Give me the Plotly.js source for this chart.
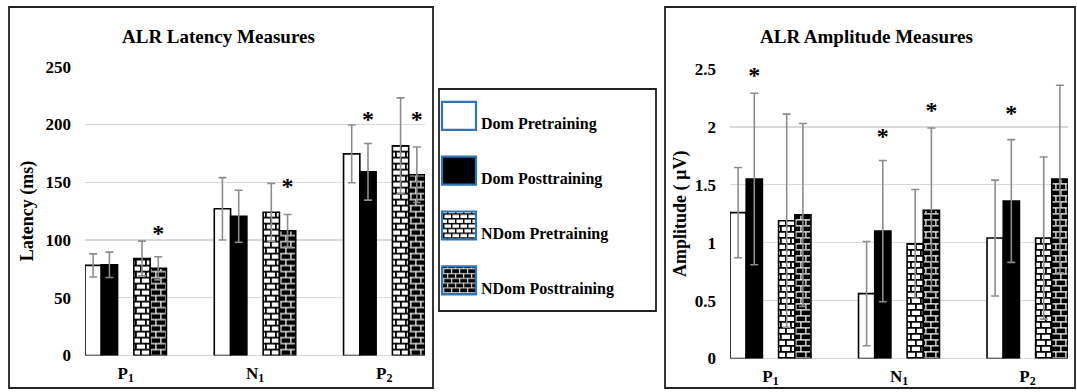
<!DOCTYPE html>
<html><head><meta charset="utf-8">
<script src="https://cdn.plot.ly/plotly-3.0.1.min.js"></script>
<style>html,body{margin:0;padding:0;background:#fff;}#chart{width:1077px;height:392px;}</style>
</head><body><div id="chart"></div>
<script>
// ---------- DATA ----------
const categories = ['P<sub>1</sub>', 'N<sub>1</sub>', 'P<sub>2</sub>'];
const seriesNames = ['Dom Pretraining', 'Dom Posttraining', 'NDom Pretraining', 'NDom Posttraining'];

// Latency (ms)
const latDomPre   = [78, 127, 174.5];
const latDomPost  = [78.5, 120.5, 159];
const latNDomPre  = [84, 124, 181.5];
const latNDomPost = [75.5, 108, 156.5];
const latErrDomPre   = [10, 27, 25];
const latErrDomPost  = [11, 22.5, 24.5];
const latErrNDomPre  = [15, 25, 41.5];
const latErrNDomPost = [10, 14, 24];
const latStarDomPost  = [null, null, 203];
const latStarNDomPost = [104.5, 145, 203];

// Amplitude (µV)
const ampDomPre   = [1.26, 0.56, 1.04];
const ampDomPost  = [1.55, 1.10, 1.36];
const ampNDomPre  = [1.19, 0.99, 1.04];
const ampNDomPost = [1.24, 1.28, 1.55];
const ampErrDomPre   = [0.39, 0.45, 0.50];
const ampErrDomPost  = [0.74, 0.61, 0.53];
const ampErrNDomPre  = [0.92, 0.47, 0.70];
const ampErrNDomPost = [0.79, 0.71, 0.81];
const ampStarDomPost  = [2.43, 1.90, 2.10];
const ampStarNDomPost = [null, 2.13, 2.635];

// ---------- BUILD ----------
const W = 0.126;                       // bar width (category units)
const slots = [0, 1, 3, 4];            // slot 2 is an empty gap
const offs = slots.map(k => -2.5 * W + k * W);
const catIdx = categories.map((c, i) => i);

const FONT = 'Liberation Serif, Times New Roman, serif';
const styles = [
  {color: '#ffffff'},
  {color: '#000000'},
  {color: '#ffffff', pattern: {shape: '+', bgcolor: '#ffffff', fgcolor: '#000000', fillmode: 'replace', size: 8, solidity: 0.2}},
  {color: '#000000', pattern: {shape: '+', bgcolor: '#000000', fgcolor: '#ffffff', fillmode: 'replace', size: 8, solidity: 0.2}}
];

function bars(vals, errs, s, xa, ya, legend) {
  const st = styles[s];
  const marker = {color: st.color, line: {color: '#000', width: 1.6}};
  if (st.pattern) marker.pattern = st.pattern;
  return {
    type: 'bar', x: catIdx, y: vals, xaxis: xa, yaxis: ya,
    width: W, offset: offs[s], name: seriesNames[s],
    legendgroup: 'g' + s, showlegend: legend,
    marker: marker,
    error_y: {type: 'data', array: errs, visible: true, color: '#8c8c8c', thickness: 1.6, width: 4},
    hoverinfo: 'skip'
  };
}
function stars(ys, s, xa, ya) {
  const idx = catIdx.filter(i => ys[i] != null);
  return {
    type: 'scatter', mode: 'text', x: idx.map(i => i + offs[s] + W / 2), y: idx.map(i => ys[i]),
    text: idx.map(() => '*'), xaxis: xa, yaxis: ya, showlegend: false,
    textposition: 'middle center', cliponaxis: false, hoverinfo: 'skip',
    textfont: {family: FONT, size: 24, weight: 'bold', color: '#000'}
  };
}

const data = [
  bars(latDomPre, latErrDomPre, 0, 'x', 'y', true),
  bars(latDomPost, latErrDomPost, 1, 'x', 'y', true),
  bars(latNDomPre, latErrNDomPre, 2, 'x', 'y', true),
  bars(latNDomPost, latErrNDomPost, 3, 'x', 'y', true),
  bars(ampDomPre, ampErrDomPre, 0, 'x2', 'y2', false),
  bars(ampDomPost, ampErrDomPost, 1, 'x2', 'y2', false),
  bars(ampNDomPre, ampErrNDomPre, 2, 'x2', 'y2', false),
  bars(ampNDomPost, ampErrNDomPost, 3, 'x2', 'y2', false),
  stars(latStarDomPost, 1, 'x', 'y'),
  stars(latStarNDomPost, 3, 'x', 'y'),
  stars(ampStarDomPost, 1, 'x2', 'y2'),
  stars(ampStarNDomPost, 3, 'x2', 'y2')
];

const PW = 1077, PH = 392;
const px = v => v / PW, py = v => 1 - v / PH;
const tickF = {family: FONT, size: 17, weight: 'bold', color: '#000'};
const xax = (dom, anchor) => ({
  domain: dom, anchor: anchor, range: [-2.5 * W, 2 + 2.5 * W], tickvals: catIdx, ticktext: categories,
  showgrid: false, zeroline: false, showline: false, ticks: '', tickfont: tickF, ticklabelstandoff: 5, fixedrange: true
});
const yax = (dom, anchor, rng, dt, title, standoff) => ({
  domain: dom, anchor: anchor, range: rng, dtick: dt, tick0: 0,
  showgrid: true, gridcolor: '#d9d9d9', gridwidth: 1.3,
  zeroline: true, zerolinecolor: '#d9d9d9', zerolinewidth: 1.3, showline: false, ticks: '',
  tickfont: tickF, ticklabelstandoff: 13, fixedrange: true,
  title: {text: title, font: {family: FONT, size: 18, weight: 'bold', color: '#000'}, standoff: standoff}
});

const boxLine = {color: '#222', width: 1.8};
const layout = {
  width: PW, height: PH, margin: {l: 0, r: 0, t: 0, b: 0},
  paper_bgcolor: '#fff', plot_bgcolor: '#fff', barmode: 'overlay',
  font: {family: FONT, color: '#000'},
  xaxis: xax([px(85), px(425)], 'y'),
  yaxis: yax([py(355.5), py(66.7)], 'x', [0, 250], 50, 'Latency (ms)', 7),
  xaxis2: xax([px(730), px(1068)], 'y2'),
  yaxis2: yax([py(358.5), py(69)], 'x2', [0, 2.5], 0.5, 'Amplitude ( µV)', 3),
  showlegend: true,
  legend: {
    x: px(437), y: py(106), xanchor: 'left', yanchor: 'top', bgcolor: 'rgba(0,0,0,0)', borderwidth: 0,
    font: {family: FONT, size: 16, weight: 'bold', color: '#000'},
    itemwidth: 34, tracegroupgap: 31, traceorder: 'grouped', itemclick: false, itemdoubleclick: false
  },
  shapes: [
    {type: 'rect', xref: 'paper', yref: 'paper', x0: px(9), x1: px(433), y0: py(388), y1: py(7), line: boxLine},
    {type: 'rect', xref: 'paper', yref: 'paper', x0: px(439), x1: px(656), y0: py(311), y1: py(89), line: boxLine},
    {type: 'rect', xref: 'paper', yref: 'paper', x0: px(665), x1: px(1075), y0: py(388), y1: py(7), line: boxLine}
  ],
  annotations: [
    {text: 'ALR Latency Measures', xref: 'paper', yref: 'paper', x: px(218), y: py(36), showarrow: false,
     xanchor: 'center', yanchor: 'middle', font: {family: FONT, size: 19, weight: 'bold', color: '#000'}},
    {text: 'ALR Amplitude Measures', xref: 'paper', yref: 'paper', x: px(866), y: py(36), showarrow: false,
     xanchor: 'center', yanchor: 'middle', font: {family: FONT, size: 19, weight: 'bold', color: '#000'}}
  ]
};

const SVGNS = 'http://www.w3.org/2000/svg';
function isDark(col) {
  const d = document.createElement('div'); d.style.color = col; document.body.appendChild(d);
  const c = getComputedStyle(d).color; d.remove();
  const n = (c.match(/\d+/g) || [255]).map(Number);
  return n[0] < 128;
}
function brickify() {
  document.querySelectorAll('pattern').forEach(p => {
    const r = p.querySelector('rect');
    const dark = r ? isDark(r.getAttribute('fill') || r.style.fill) : false;
    const bg = dark ? '#000' : '#fff', fg = dark ? '#fff' : '#000';
    while (p.firstChild) p.removeChild(p.firstChild);
    p.setAttribute('width', '10'); p.setAttribute('height', '12');
    const rect = document.createElementNS(SVGNS, 'rect');
    rect.setAttribute('width', '10'); rect.setAttribute('height', '12'); rect.setAttribute('fill', bg);
    p.appendChild(rect);
    const path = document.createElementNS(SVGNS, 'path');
    path.setAttribute('d', 'M0,0.9H10M0,6.9H10M0.9,0.9V6.9M5.9,6.9V12');
    path.setAttribute('stroke', fg); path.setAttribute('stroke-width', dark ? '1.2' : '1.8'); path.setAttribute('fill', 'none');
    p.appendChild(path);
  });
  document.querySelectorAll('.legend .scrollbox, .legend').forEach(e => {
    e.removeAttribute('clip-path'); e.style.clipPath = 'none';
  });
  document.querySelectorAll('.legend .traces .legendpoints path').forEach(p => {
    p.setAttribute('d', 'M-17,-21h34v28h-34Z');
    p.style.stroke = '#2e75b6'; p.style.strokeWidth = '2.2px'; p.style.strokeOpacity = '1';
  });
}
Plotly.newPlot('chart', data, layout, {staticPlot: true, displayModeBar: false}).then(brickify);
</script>
</body></html>
